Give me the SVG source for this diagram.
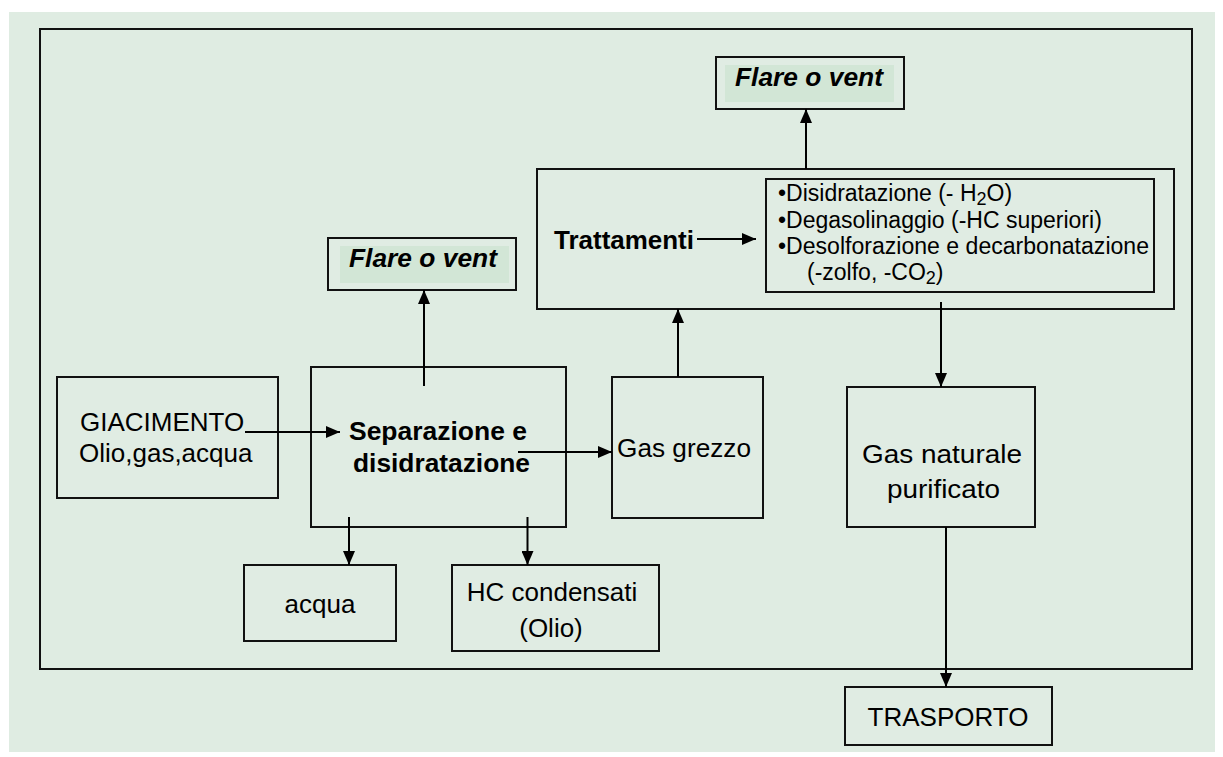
<svg xmlns="http://www.w3.org/2000/svg" width="1223" height="757" viewBox="0 0 1223 757">
<defs>
<marker id="ah" markerUnits="userSpaceOnUse" markerWidth="14" markerHeight="12" refX="14" refY="6" orient="auto">
<path d="M0,0 L14,6 L0,12 z" fill="#000"/>
</marker>
<style>
.box{fill:#e0ece3;stroke:#111;stroke-width:2}
.frame{fill:none;stroke:#111;stroke-width:2}
.hl{fill:#d2e6d6;stroke:none}
.t{font-family:"Liberation Sans",Arial,Helvetica,sans-serif;font-size:26px;fill:#000}
.b{font-weight:bold}
.bi{font-weight:bold;font-style:italic}
.s{font-size:23px}
.c{stroke:#000;stroke-width:2;fill:none}
.ca{stroke:#000;stroke-width:2;fill:none;marker-end:url(#ah)}
</style>
</defs>
<rect x="0" y="0" width="1223" height="757" fill="#ffffff"/>
<rect x="9" y="12" width="1206" height="740" fill="#dfece2"/>
<rect class="frame" x="40" y="29" width="1152" height="640"/>

<g id="flare-top">
<rect class="box" x="716" y="57" width="188" height="52"/>
<rect class="hl" x="725" y="65" width="169" height="37"/>
<text class="t bi" x="735" y="86" textLength="148" lengthAdjust="spacingAndGlyphs">Flare o vent</text>
</g>

<g id="trattamenti">
<rect class="box" x="537" y="169" width="637" height="140"/>
<text class="t b" x="554" y="249" textLength="140" lengthAdjust="spacingAndGlyphs">Trattamenti</text>
</g>

<g id="trattamenti-list">
<rect class="box" x="766" y="179" width="388" height="113"/>
<text class="t s" x="778" y="201">•Disidratazione (- H<tspan font-size="18" dy="4">2</tspan><tspan dy="-4">O)</tspan></text>
<text class="t s" x="778" y="228">•Degasolinaggio (-HC superiori)</text>
<text class="t s" x="778" y="254" textLength="371" lengthAdjust="spacingAndGlyphs">•Desolforazione e decarbonatazione</text>
<text class="t s" x="807" y="280">(-zolfo, -CO<tspan font-size="18" dy="4">2</tspan><tspan dy="-4">)</tspan></text>
</g>

<g id="flare-mid">
<rect class="box" x="328" y="238" width="188" height="52"/>
<rect class="hl" x="340" y="246" width="169" height="37"/>
<text class="t bi" x="349" y="267" textLength="148" lengthAdjust="spacingAndGlyphs">Flare o vent</text>
</g>

<g id="giacimento">
<rect class="box" x="57" y="377" width="221" height="121"/>
<text class="t" x="80" y="431">GIACIMENTO</text>
<text class="t" x="79" y="462">Olio,gas,acqua</text>
</g>

<g id="separazione">
<rect class="box" x="311" y="367" width="255" height="160"/>
<text class="t b" x="349" y="440" textLength="178" lengthAdjust="spacingAndGlyphs">Separazione e</text>
<text class="t b" x="353" y="472" textLength="177" lengthAdjust="spacingAndGlyphs">disidratazione</text>
</g>

<g id="gas-grezzo">
<rect class="box" x="612" y="377" width="151" height="141"/>
<text class="t" x="617" y="457" textLength="134" lengthAdjust="spacingAndGlyphs">Gas grezzo</text>
</g>

<g id="gas-naturale">
<rect class="box" x="847" y="387" width="188" height="140"/>
<text class="t" x="862" y="463" font-size="30" textLength="160" lengthAdjust="spacingAndGlyphs">Gas naturale</text>
<text class="t" x="887" y="498" font-size="30" textLength="113" lengthAdjust="spacingAndGlyphs">purificato</text>
</g>

<g id="acqua">
<rect class="box" x="244" y="565" width="152" height="76"/>
<text class="t" x="320" y="613" text-anchor="middle">acqua</text>
</g>

<g id="hc-condensati">
<rect class="box" x="452" y="565" width="207" height="86"/>
<text class="t" x="552" y="601" text-anchor="middle">HC condensati</text>
<text class="t" x="551" y="637" text-anchor="middle">(Olio)</text>
</g>

<g id="trasporto">
<rect class="box" x="845" y="687" width="207" height="58"/>
<text class="t" x="948" y="726" text-anchor="middle">TRASPORTO</text>
</g>

<g id="connectors">
<line class="ca" x1="245" y1="432" x2="340" y2="432"/>
<line class="ca" x1="518" y1="452" x2="612" y2="452"/>
<line class="ca" x1="424" y1="386" x2="424" y2="290"/>
<line class="ca" x1="349" y1="517" x2="349" y2="565"/>
<line class="ca" x1="527.5" y1="517" x2="527.5" y2="565"/>
<line class="ca" x1="678" y1="377" x2="678" y2="309"/>
<line class="ca" x1="806" y1="169" x2="806" y2="109"/>
<line class="ca" x1="697" y1="239" x2="756" y2="239"/>
<line class="ca" x1="941" y1="302" x2="941" y2="387"/>
<line class="ca" x1="946" y1="527" x2="946" y2="687"/>
</g>
</svg>
